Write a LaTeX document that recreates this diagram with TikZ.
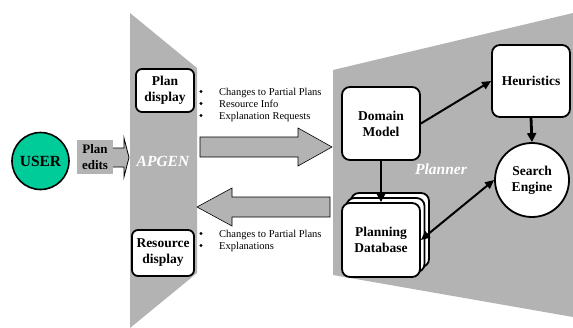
\documentclass[tikz,border=0pt]{standalone}
\usepackage{fontspec}
\setmainfont{Liberation Serif}
\usetikzlibrary{arrows.meta}
\definecolor{panelgrey}{RGB}{179,179,179}
\definecolor{userteal}{RGB}{0,204,153}
\begin{document}
\begin{tikzpicture}[x=1pt,y=-1pt,
  box/.style={draw=black, line width=1.8pt, fill=white, rounded corners=8pt,
    align=center, font=\bfseries\fontsize{13.5}{16}\selectfont, inner sep=0pt},
  roundnode/.style={circle, draw=black, line width=1.8pt, fill=white,
    align=center, font=\bfseries\fontsize{13.5}{16}\selectfont, inner sep=0pt},
  paneltitle/.style={text=white, font=\bfseries\itshape\fontsize{15.5}{18}\selectfont},
  bullettext/.style={anchor=base west, inner sep=0pt, font=\fontsize{10.5}{12}\selectfont},
  bulletmark/.style={circle, fill=black, inner sep=0pt, minimum size=3.4pt},
  bigarrow/.style={fill=panelgrey, draw=black, line width=0.6pt},
  conn/.style={line width=2pt, -{Triangle[length=9pt,width=8pt]}},
  vconn/.style={line width=2.8pt, -{Triangle[length=9pt,width=9pt]}},
]
\useasboundingbox (0,0) rectangle (573,327);

% panels
\fill[panelgrey] (130,13) -- (197,68) -- (197,273) -- (130,328) -- cycle;
\fill[panelgrey] (333,70) -- (573,13) -- (573,317) -- (333,275) -- cycle;
\node[paneltitle] (apgen) at (163,161) {APGEN};
\node[paneltitle] (planner) at (441,169) {Planner};

% big arrows between APGEN and Planner
\draw[bigarrow] (200,137) -- (298,137) -- (298,128) -- (332,147) -- (298,166) -- (298,157) -- (200,157) -- cycle;
\draw[bigarrow] (330,197) -- (232,197) -- (232,188) -- (197,207) -- (232,226) -- (232,217) -- (330,217) -- cycle;

% user side
\node[circle, draw=black, line width=1.6pt, fill=userteal, minimum size=57pt, inner sep=0pt,
  font=\bfseries\fontsize{15.5}{18}\selectfont] (user) at (40.5,161) {USER};
\node[fill=panelgrey, minimum width=36pt, minimum height=34pt, inner sep=0pt, align=center,
  font=\bfseries\fontsize{13}{16}\selectfont] (edits) at (95,157) {Plan\\edits};
\fill[panelgrey] (113,148) -- (124,148) -- (124,138) -- (129,157.5) -- (124,177) -- (124,167) -- (113,167) -- cycle;
\draw[line width=0.8pt] (113,148) -- (124,148) -- (124,138) -- (129,157.5) -- (124,177) -- (124,167) -- (113,167);

% APGEN displays
\node[box, rounded corners=6pt, minimum width=58pt, minimum height=43pt] (plandisp) at (165,90.5) {Plan\\display};
\node[box, rounded corners=6pt, minimum width=62pt, minimum height=46pt] (resdisp) at (163,253) {Resource\\display};

% bullet lists
\node[bulletmark] (b1) at (201,91.5) {};
\node[bullettext] (t1) at (219,95) {Changes to Partial Plans};
\node[bulletmark] (b2) at (201,103.5) {};
\node[bullettext] (t2) at (219,107) {Resource Info};
\node[bulletmark] (b3) at (201,115.5) {};
\node[bullettext] (t3) at (219,119) {Explanation Requests};
\node[bulletmark] (b4) at (201,233.5) {};
\node[bullettext] (t4) at (219,237) {Changes to Partial Plans};
\node[bulletmark] (b5) at (201,245.5) {};
\node[bullettext] (t5) at (219,249) {Explanations};

% planner internals
\node[box, minimum width=78pt, minimum height=73pt] (domain) at (381,123.5) {Domain\\Model};
\node[box, minimum width=78pt, minimum height=72pt] (heur) at (531,81) {Heuristics};
\node[roundnode, minimum size=74pt] (search) at (532,180) {Search\\Engine};
\node[box, minimum width=78pt, minimum height=74pt] (pdbback2) at (390,230) {};
\node[box, minimum width=78pt, minimum height=74pt] (pdbback1) at (385.5,235) {};
\node[box, minimum width=78pt, minimum height=74pt] (pdb) at (381,240) {Planning\\Database};

% connectors
\draw[conn] (domain.east) -- (heur.west);
\draw[vconn] (heur.south) -- (search.north);
\draw[vconn] (domain.south) -- (pdb.north);
\draw[line width=2pt, {Triangle[length=9pt,width=8pt]}-{Triangle[length=9pt,width=8pt]}] (pdb.east) -- (search.west);
\end{tikzpicture}
\end{document}
